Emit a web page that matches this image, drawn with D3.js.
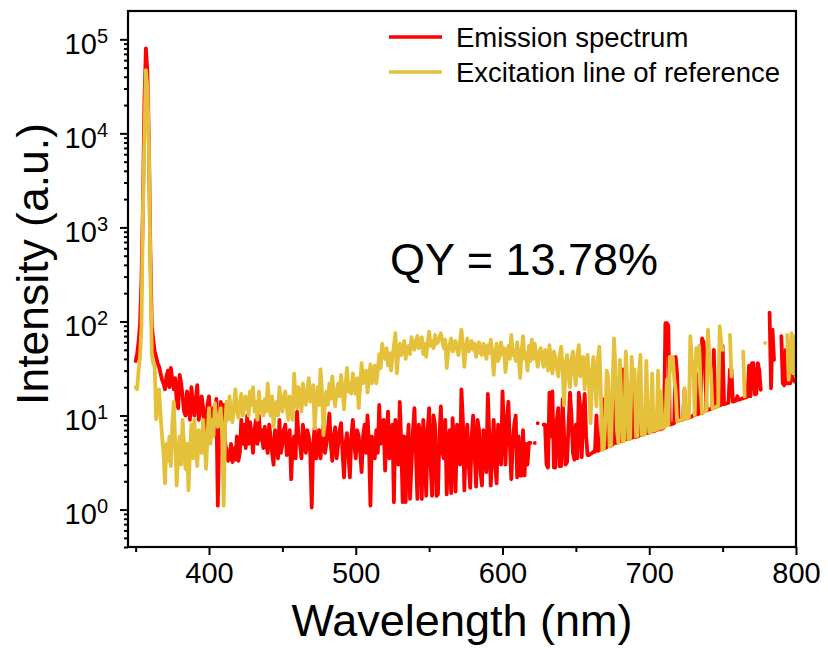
<!DOCTYPE html>
<html>
<head>
<meta charset="utf-8">
<script src="https://cdn.jsdelivr.net/npm/d3@7"></script>
<style>
  body { margin: 0; background: #fff; }
  svg { display: block; }
  text { font-family: "Liberation Sans", Arial, sans-serif; fill: #000; }
</style>
</head>
<body>
<svg id="chart" width="828" height="648"></svg>
<script>
// ---------------- data ----------------
const peakWavelengths = [350, 351, 352, 353, 354, 355, 356, 357, 358, 359, 360, 361, 362, 363, 364, 365];
const scanStart = 366, scanEnd = 800, scanStep = 1;   // one value per nm from 366 to 800

const emissionPeak = [38, 45, 60, 95, 280, 1800, 22000, 80000, 45000, 9000, 600, 90, 64, 48, 42, 36];
const emissionScan = [
  33, 28, 24, 22, 19, 26, 30, 20, 32, 24,        // 366
  19, 25, 14, 12, 27, 22, 16, 11, 10, 18,        // 376
  14, 9, 20, 13, 10, 15, 21, 9, 11, 16,          // 386
  12, 7, 9, 13, 16, 8, 11, 12, 8, 15,            // 396
  1.1, 6, 14, 9, 13, 5, 4.3, 3.3, 3.5, 5,        // 406
  3.2, 4.5, 3.4, 6, 3.3, 4, 9, 5, 8, 4.5,        // 416
  10, 5, 8.5, 6, 4, 7, 9, 5, 10, 5.5,            // 426
  7, 4.5, 7.6, 5, 4, 8, 6, 4, 3, 7,              // 436
  5.5, 3.5, 9, 4, 5, 7, 8, 3.8, 4.5, 7,          // 446
  2.1, 5, 6, 3.5, 11, 6, 5, 3.5, 8, 6,           // 456
  4, 7, 6, 4, 1.05, 5, 7.5, 3.5, 4.5, 7,         // 466
  3.5, 6, 8, 4, 5, 7, 10.5, 5, 3.3, 6,           // 476
  7.5, 3.5, 5, 7, 8.3, 4, 2.2, 5, 6.5, 4,        // 486
  2.2, 6, 9, 5, 3.5, 7, 6, 4, 2.5, 6,            // 496
  8, 4, 10, 5, 1.1, 6, 4.5, 3.5, 7, 4,           // 506
  13, 5, 7.5, 9, 2.6, 6, 11, 3.5, 5, 8,          // 516
  1.2, 9, 6, 3, 14, 5, 1.2, 6, 1.2, 4,           // 526
  8, 1.3, 3, 7, 12, 4, 1.3, 8, 6, 1.3,           // 536
  9, 5, 1.4, 7, 12, 3, 1.4, 10, 8, 1.4,          // 546
  1.45, 6, 12.5, 4, 3.5, 9, 1.45, 5, 7, 1.5,     // 556
  9.4, 4, 1.55, 8, 6, 3, 19, 9, 1.6, 5,          // 566
  8, 3, 1.7, 6, 10, 4, 1.75, 9, 7, 2.5,          // 576
  1.8, 7, 5, 2.5, 17, 6, 1.8, 4, 9, 3,           // 586
  1.9, 8, 6, 3, 18, 7, 3, 9, 14, 5,              // 596
  2.1, 5, 8, 10, 2.2, 6, 2.3, 2.3, 7, 2.3,       // 606
  5, 3, 5.1, 5.1, null, null, 5.1, null, 8.3, null, // 616
  null, null, 8, 8, 3, 2.8, 17.5, 6, 18, 2.8,    // 626
  2.8, 9, 12, 2.9, 2.9, 15, 6, 3, 3.2, 8,        // 636
  17.5, 10, 4, 3.4, 8, 3.5, 17.5, 12, 3.6, 10,   // 646
  17, 6, 3.8, 3.8, 3.9, 4, 4.1, 4.1, 10, 4.2,    // 656
  4.3, 4.4, 15, 4.5, 4.5, 4.6, 12, 4.7, 4.8, 4.9, // 666
  20, 5.1, 5.2, 5.2, 9, 5.3, 31, 5.5, 5.6, 5.6,  // 676
  18, 5.7, 5.8, 5.9, 18, 5.9, 6.0, 6.1, 8, 6.2,  // 686
  6.3, 6.4, 12.5, 6.5, 6.6, 6.7, 13, 6.8, 6.9, 7, // 696
  10, 7.1, 7.2, 7.3, 7.4, 96, 96, 90, 8, 8.1,    // 706
  8.2, 8.3, 42, 27, 8.8, 8.9, 9, 9.1, 18.8, 9.3, // 716
  9.4, 9.5, 9.6, 9.8, 10, 10.1, 28, 10.3, 10.5, 10.6, // 726
  66, 60, 40, 11.3, 11.5, 11.6, 11.8, 11.9, 50, 12.2, // 736
  12.5, 12.6, 12.8, 13, 55, 13.2, 13.4, 13.5, 13.7, 31, // 746
  31, 14, 14.2, 14.4, 16, 14.7, 14.9, 15.1, 15.3, 15.5, // 756
  15.7, 15.9, 34, 16, 36, 36, 16.8, 17, 36, 30,  // 766
  18.8, null, null, null, null, null, 124, 19.5, 82, 39, // 776
  null, null, null, null, 70, 22, 21, 50, 22, 22, // 786
  22, 66, 24, 23, 24                              // 796
];

const excitationPeak = [20, 19, 30, 42, 90, 1500, 9000, 47000, 30000, 8000, 400, 45, 36, 33, 9.1, 14];
const excitationScan = [
  19, 10, 6, 4, 1.9, 5, 3.3, 6, 2.9, 8,          // 366
  14, 5, 1.8, 4, 6, 3, 9, 5, 2.7, 5,             // 376
  1.6, 4, 8, 3.5, 9, 5, 2.9, 7, 6, 4,            // 386
  9, 5, 2.7, 6, 12, 5, 9, 6, 13.5, 9,            // 396
  7.6, 10, 12, 6, 1.1, 8, 14, 9, 16, 10,         // 406
  8.5, 13, 19, 11, 9.5, 14, 17, 10, 12, 16,      // 416
  15, 10, 18, 13, 20, 11, 14, 9, 18, 11,         // 426
  14, 10, 15, 11, 22, 14, 10, 16, 7.6, 12,       // 436
  14, 10, 20, 13, 11, 16, 18, 12, 9, 16,         // 446
  13, 9, 28, 16, 12, 20, 17, 11, 22, 15,         // 456
  13, 19, 25, 14, 16, 21, 7.3, 14, 20, 13,       // 466
  31, 18, 6.2, 14, 18, 13, 22, 15, 26, 17,       // 476
  12.5, 18, 22, 16, 27, 19, 11.6, 20, 32, 18,    // 486
  22, 17, 28, 21, 17, 25, 12, 20, 36, 22,        // 496
  24, 30, 17.5, 25, 35, 22, 28, 34, 22, 30,      // 506
  45, 32, 58, 44, 40, 52, 34, 46, 30, 42,        // 516
  55, 75, 28, 45, 58, 44, 50, 62, 40, 52,        // 526
  55, 45, 68, 56, 50, 62, 70, 52, 60, 68,        // 536
  45, 58, 42, 60, 78, 55, 62, 52, 72, 58,        // 546
  60, 68, 75, 62, 52, 64, 32, 48, 58, 66,        // 556
  48, 56, 62, 50, 44, 60, 82, 55, 33, 52,        // 566
  66, 48, 55, 62, 50, 58, 42, 54, 60, 46,        // 576
  44, 58, 52, 40, 56, 46, 64, 48, 27, 44,        // 586
  58, 38, 42, 60, 45, 52, 29, 42, 55, 40,        // 596
  72, 44, 50, 38, 60, 42, 25, 48, 70, 40,        // 606
  46, 30, 55, 38, 64, 40, 58, 44, 33, 46,        // 616
  52, 40, 33, 50, 46, 30, 56, 38, 28, 48,        // 626
  42, 32, 26, 44, 54, 30, 12.8, 36, 44, 26,      // 636
  20, 40, 48, 28, 21, 44, 56, 26, 30, 42,        // 646
  19, 34, 44, 20, 8.3, 30, 42, 22, 12.5, 40,     // 656
  54, 18, 4.3, 4.4, 8.3, 30, 26, 4.7, 4.8, 20,   // 666
  66, 30, 7, 5.1, 39, 14, 5.3, 5.4, 48, 22,      // 676
  5.6, 5.7, 42, 20, 31, 6.0, 6.1, 28, 44, 6.2,   // 686
  6.3, 6.4, 38, 12, 6.6, 6.7, 28, 6.9, 7.0, 7.1, // 696
  30, 7.2, 18, 7.4, 7.5, 7.7, 24, 7.9, 42, 30,   // 706
  42, 25, 18, 8.6, 8.7, 8.9, 9.0, 9.1, 19.5, 9.2, // 716
  9.4, 9.5, 70, 40, 31, 10.1, 52, 35, 55, 20,    // 726
  10.5, 10.8, 11, 11.2, 82, 40, 30, 11.9, 12, 12.2, // 736
  12.5, 12.6, 89, 60, 50, null, null, null, null, 72, // 746
  26, null, null, null, null, null, null, null, 48, 16, // 756
  null, null, null, null, null, null, null, null, null, null, // 766
  null, null, null, 59, null, null, null, null, null, null, // 776
  null, null, null, null, null, null, null, null, 72, 24, // 786
  40, 75, 28, 70, 26                              // 796
];

const seriesNames = ["Emission spectrum", "Excitation line of reference"];
const seriesColors = ["#ff0000", "#e5c13b"];
const xTickValues = [400, 500, 600, 700, 800];
const xMinorTicks = [350, 450, 550, 650, 750];
const yTickValues = [1, 10, 100, 1000, 10000, 100000];
const annotation = "QY = 13.78%";
const xTitle = "Wavelength (nm)";
const yTitle = "Intensity (a.u.)";

// ---------------- build ----------------
const wavelengths = peakWavelengths.concat(d3.range(scanStart, scanEnd + 1, scanStep));
const emission = emissionPeak.concat(emissionScan);
const excitation = excitationPeak.concat(excitationScan);

const L = 128, R = 796, T = 11, B = 547;
const svg = d3.select("#chart");
const FONT = "'Liberation Sans', Arial, sans-serif";

const x = d3.scaleLinear().domain([344.8, 800]).range([L, R]);
const y = d3.scaleLog().domain([0.4, 2e5]).range([B, T]);

svg.append("defs").append("clipPath").attr("id", "plotclip")
  .append("rect").attr("x", L).attr("y", T).attr("width", R - L).attr("height", B - T);

const line = d3.line()
  .defined(d => d.v != null && d.v > 0)
  .x(d => x(d.w))
  .y(d => y(d.v));

const series = [emission, excitation];
const plot = svg.append("g").attr("clip-path", "url(#plotclip)");
series.forEach((vals, i) => {
  const pts = wavelengths.map((w, j) => ({ w: w, v: vals[j] }));
  plot.append("path")
    .datum(pts)
    .attr("d", line)
    .attr("fill", "none")
    .attr("stroke", seriesColors[i])
    .attr("stroke-width", 3.8)
    .attr("stroke-linejoin", "round")
    .attr("stroke-linecap", "round");
});

// frame
svg.append("rect").attr("x", L).attr("y", T).attr("width", R - L).attr("height", B - T)
  .attr("fill", "none").attr("stroke", "#000").attr("stroke-width", 2.2);

// x axis
const gx = svg.append("g").attr("transform", `translate(0,${B})`)
  .call(d3.axisBottom(x).tickValues(xTickValues).tickSize(8).tickPadding(6).tickFormat(d3.format("d")));
gx.select(".domain").remove();
gx.selectAll(".tick line").attr("stroke", "#000").attr("stroke-width", 2);
gx.selectAll(".tick text").attr("font-size", 29).attr("dy", null).attr("y", 36)
  .style("font-family", FONT);

const gxm = svg.append("g").attr("transform", `translate(0,${B})`)
  .call(d3.axisBottom(x).tickValues(xMinorTicks).tickSize(5).tickFormat(""));
gxm.select(".domain").remove();
gxm.selectAll(".tick line").attr("stroke", "#000").attr("stroke-width", 2);

// y axis
const gy = svg.append("g").attr("transform", `translate(${L},0)`)
  .call(d3.axisLeft(y).tickValues(yTickValues).tickSize(8).tickPadding(12).tickFormat(() => ""));
gy.select(".domain").remove();
gy.selectAll(".tick line").attr("stroke", "#000").attr("stroke-width", 2);
gy.selectAll(".tick text").each(function(d) {
  const t = d3.select(this);
  t.attr("dy", null).attr("y", 14).attr("font-size", 29).style("font-family", FONT);
  t.append("tspan").text("10");
  t.append("tspan").attr("font-size", 20).attr("dy", -11).text(Math.round(Math.log10(d)));
});

const yMinor = [];
for (let k = -1; k <= 5; k++) {
  for (let m = 2; m <= 9; m++) {
    const v = m * Math.pow(10, k);
    if (v >= 0.4 && v < 2e5) yMinor.push(v);
  }
}
const gym = svg.append("g").attr("transform", `translate(${L},0)`)
  .call(d3.axisLeft(y).tickValues(yMinor).tickSize(4).tickFormat(""));
gym.select(".domain").remove();
gym.selectAll(".tick line").attr("stroke", "#000").attr("stroke-width", 2);

// titles
svg.append("text").attr("x", (L + R) / 2).attr("y", 636).attr("text-anchor", "middle")
  .attr("font-size", 45).text(xTitle);
svg.append("text").attr("transform", "translate(48,264) rotate(-90)").attr("text-anchor", "middle")
  .attr("font-size", 44.5).text(yTitle);

// annotation
svg.append("text").attr("x", 390).attr("y", 275).attr("font-size", 45).text(annotation);

// legend
const legendY = [37, 72];
seriesNames.forEach((name, i) => {
  svg.append("line").attr("x1", 389).attr("x2", 442).attr("y1", legendY[i]).attr("y2", legendY[i])
    .attr("stroke", seriesColors[i]).attr("stroke-width", 3.5);
  svg.append("text").attr("x", 456).attr("y", legendY[i] + 9.5).attr("font-size", 27.5).text(name);
});
</script>
</body>
</html>
